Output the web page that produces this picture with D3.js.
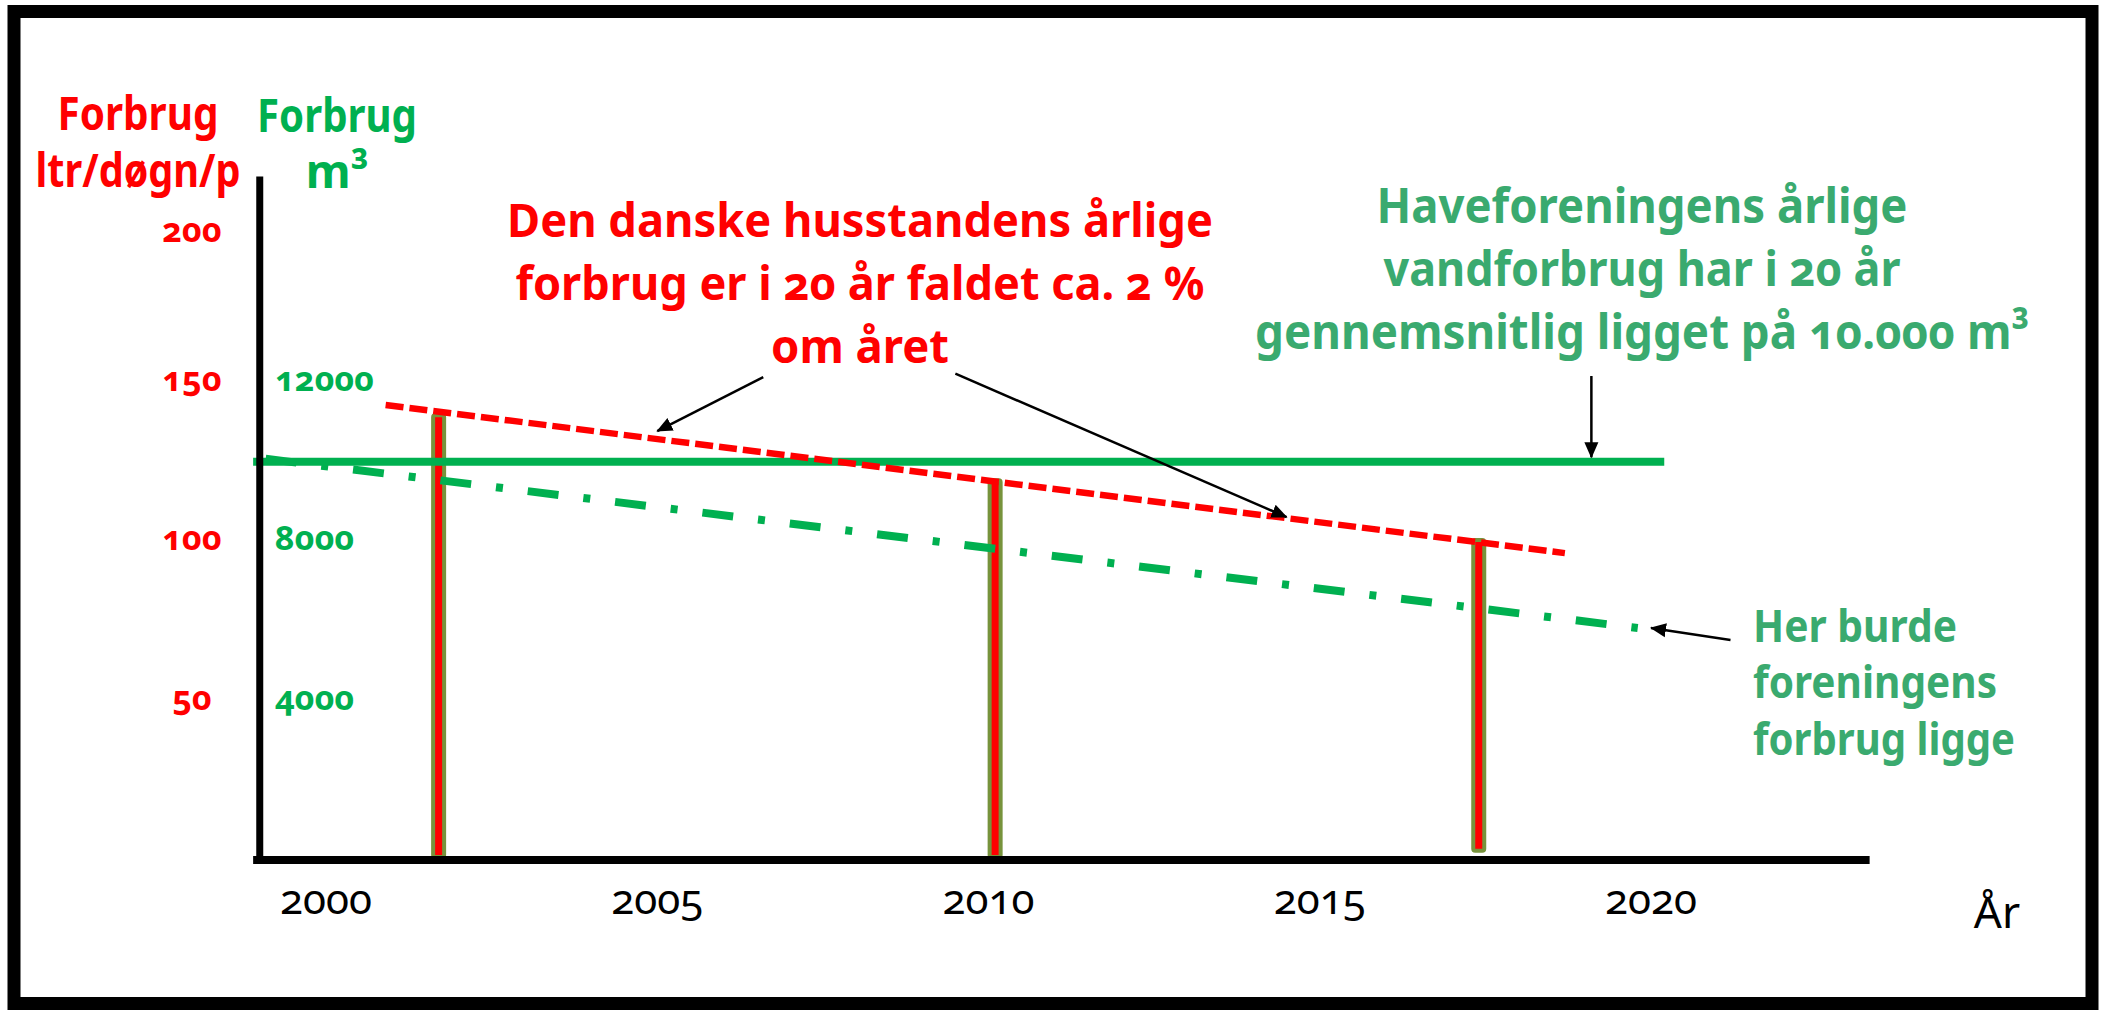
<!DOCTYPE html>
<html>
<head>
<meta charset="utf-8">
<script src="https://cdn.jsdelivr.net/npm/d3@7/dist/d3.min.js"></script>
<style>
  html, body { margin: 0; padding: 0; background: #fff; }
  svg { display: block; font-family: "Noto Sans", sans-serif; }
  text { font-variant-numeric: oldstyle-nums; }
</style>
</head>
<body>
<div id="chart"></div>
<script>
// ---- data ----
const yearTicks = [2000, 2005, 2010, 2015, 2020];
const redTicks = [50, 100, 150, 200];          // ltr/døgn/p
const greenTicks = [4000, 8000, 12000];        // m3

const barYears = [2001.7, 2010.1, 2017.4];
const barValues = [139.6, 119.2, 100.4];       // ltr/døgn/p
const barBase = [0, 0, 2];

const householdTrend = [[2000.9, 142.8], [2018.7, 96.3]];   // red dashed (ltr/døgn/p)
const gardenAverage = [[1998.9, 10000], [2020.2, 10000]];   // green solid (m3)
const gardenTarget = [[1999.0, 10090], [2019.8, 5825]];     // green dash-dot (m3)

// annotation arrows: [from, to] in data units, scale key
const arrows = [
  { s: "red", from: [2006.6, 151.6], to: [2005.0, 134.6] },
  { s: "red", from: [2009.5, 152.8], to: [2014.5, 107.6] },
  { s: "green", from: [2019.1, 12150], to: [2019.1, 10110] },
  { s: "green", from: [2021.2, 5524], to: [2020.0, 5825] }
];

const headingLines = ["Den danske husstandens årlige", "forbrug er i 20 år faldet ca. 2 %", "om året"];
const gardenLines = ["Haveforeningens årlige", "vandforbrug har i 20 år", "gennemsnitlig ligget på 10.000 m³"];
const targetLines = ["Her burde", "foreningens", "forbrug ligge"];

// ---- layout ----
const W = 2102, H = 1010;
const RED = "#ff0000", GREEN = "#00b050", TEXTGREEN = "#3aaa6f", OLIVE = "#77933c";

const svg = d3.select("#chart").append("svg")
  .attr("width", W)
  .attr("height", H);

const x = d3.scaleLinear().domain([2000, 2020]).range([326, 1651]);
const yRed = d3.scaleLinear().domain([0, 150, 200]).range([860, 382, 233]);
const yGreen = d3.scaleLinear().domain([0, 12000]).range([860, 382]);
const scales = { red: yRed, green: yGreen };

// outer frame
svg.append("rect")
  .attr("x", 14).attr("y", 11.5)
  .attr("width", 2078).attr("height", 992)
  .attr("fill", "none")
  .attr("stroke", "#000")
  .attr("stroke-width", 13);

// arrow head
svg.append("defs").append("marker")
  .attr("id", "head")
  .attr("markerUnits", "userSpaceOnUse")
  .attr("markerWidth", 16).attr("markerHeight", 16)
  .attr("viewBox", "0 0 16 16")
  .attr("refX", 15).attr("refY", 8)
  .attr("orient", "auto")
  .append("path")
  .attr("d", "M0,1 L16,8 L0,15 Z")
  .attr("fill", "#000");

// bars
svg.selectAll(".bar")
  .data(barYears)
  .enter()
  .append("rect")
  .attr("class", "bar")
  .attr("x", d => x(d) - 5.5)
  .attr("y", (d, i) => yRed(barValues[i]))
  .attr("width", 11)
  .attr("height", (d, i) => yRed(barBase[i]) - yRed(barValues[i]) - 3)
  .attr("rx", 2)
  .attr("fill", RED)
  .attr("stroke", OLIVE)
  .attr("stroke-width", 4);

// lines
const line = (ys) => d3.line().x(d => x(d[0])).y(d => ys(d[1]));

svg.append("path")
  .attr("d", line(yGreen)(gardenAverage))
  .attr("fill", "none")
  .attr("stroke", GREEN)
  .attr("stroke-width", 8);

svg.append("path")
  .attr("d", line(yGreen)(gardenTarget))
  .attr("fill", "none")
  .attr("stroke", GREEN)
  .attr("stroke-width", 8)
  .attr("stroke-dasharray", "31,25,7,25")
  .attr("stroke-dashoffset", -6);

svg.append("path")
  .attr("d", line(yRed)(householdTrend))
  .attr("fill", "none")
  .attr("stroke", RED)
  .attr("stroke-width", 6.5)
  .attr("stroke-dasharray", "18,6");

// axes
svg.append("line")
  .attr("x1", x(1999.0)).attr("x2", x(1999.0))
  .attr("y1", yRed(219)).attr("y2", yRed(0) + 4)
  .attr("stroke", "#000").attr("stroke-width", 7);

svg.append("line")
  .attr("x1", x(1998.9)).attr("x2", x(2023.3))
  .attr("y1", yRed(0)).attr("y2", yRed(0))
  .attr("stroke", "#000").attr("stroke-width", 8);

// tick labels
svg.selectAll(".tick-red")
  .data(redTicks)
  .enter()
  .append("text")
  .attr("class", "tick-red")
  .attr("x", 192)
  .attr("y", d => yRed(d) + 9)
  .attr("text-anchor", "middle")
  .attr("fill", RED)
  .style("font-size", "34px")
  .style("font-weight", "bold")
  .text(d => d);

svg.selectAll(".tick-green")
  .data(greenTicks)
  .enter()
  .append("text")
  .attr("class", "tick-green")
  .attr("x", 275)
  .attr("y", d => yGreen(d) + 9)
  .attr("fill", GREEN)
  .style("font-size", "34px")
  .style("font-weight", "bold")
  .text(d => d);

svg.selectAll(".tick-year")
  .data(yearTicks)
  .enter()
  .append("text")
  .attr("class", "tick-year")
  .attr("x", d => x(d))
  .attr("y", 914)
  .attr("text-anchor", "middle")
  .attr("fill", "#000")
  .style("font-size", "42px")
  .text(d => d);

svg.append("text")
  .attr("x", 1997).attr("y", 928)
  .attr("text-anchor", "middle")
  .style("font-size", "44px")
  .text("År");

// arrows
svg.selectAll(".arrow")
  .data(arrows)
  .enter()
  .append("line")
  .attr("class", "arrow")
  .attr("x1", d => x(d.from[0]))
  .attr("y1", d => scales[d.s](d.from[1]))
  .attr("x2", d => x(d.to[0]))
  .attr("y2", d => scales[d.s](d.to[1]))
  .attr("stroke", "#000")
  .attr("stroke-width", 2.5)
  .attr("marker-end", "url(#head)");

// text blocks; widths squeeze the font to the narrow original face
const textBlock = (lines, opt) => {
  svg.append("g")
    .selectAll("text")
    .data(lines)
    .enter()
    .append("text")
    .attr("x", opt.x)
    .attr("y", (d, i) => opt.y[i])
    .attr("text-anchor", opt.anchor || "middle")
    .attr("fill", opt.fill)
    .style("font-size", opt.size + "px")
    .style("font-weight", "bold")
    .each(function (d, i) {
      if (opt.widths && opt.widths[i]) {
        d3.select(this)
          .attr("textLength", opt.widths[i])
          .attr("lengthAdjust", "spacingAndGlyphs");
      }
    })
    .text(d => d);
};

textBlock(["Forbrug", "ltr/døgn/p"], { x: 138, y: [130, 187], size: 46, fill: RED, widths: [161, 205] });
textBlock(["Forbrug", "m³"], { x: 337, y: [132, 188], size: 46, fill: GREEN, widths: [160, 0] });
textBlock(headingLines, { x: 860, y: [237, 300, 363], size: 46, fill: RED, widths: [706, 689, 178] });
textBlock(gardenLines, { x: 1642, y: [223, 286, 349], size: 49, fill: TEXTGREEN, widths: [531, 517, 774] });
textBlock(targetLines, { x: 1753, y: [642, 698, 755], size: 45, fill: TEXTGREEN, anchor: "start", widths: [204, 244, 262] });
</script>
</body>
</html>
